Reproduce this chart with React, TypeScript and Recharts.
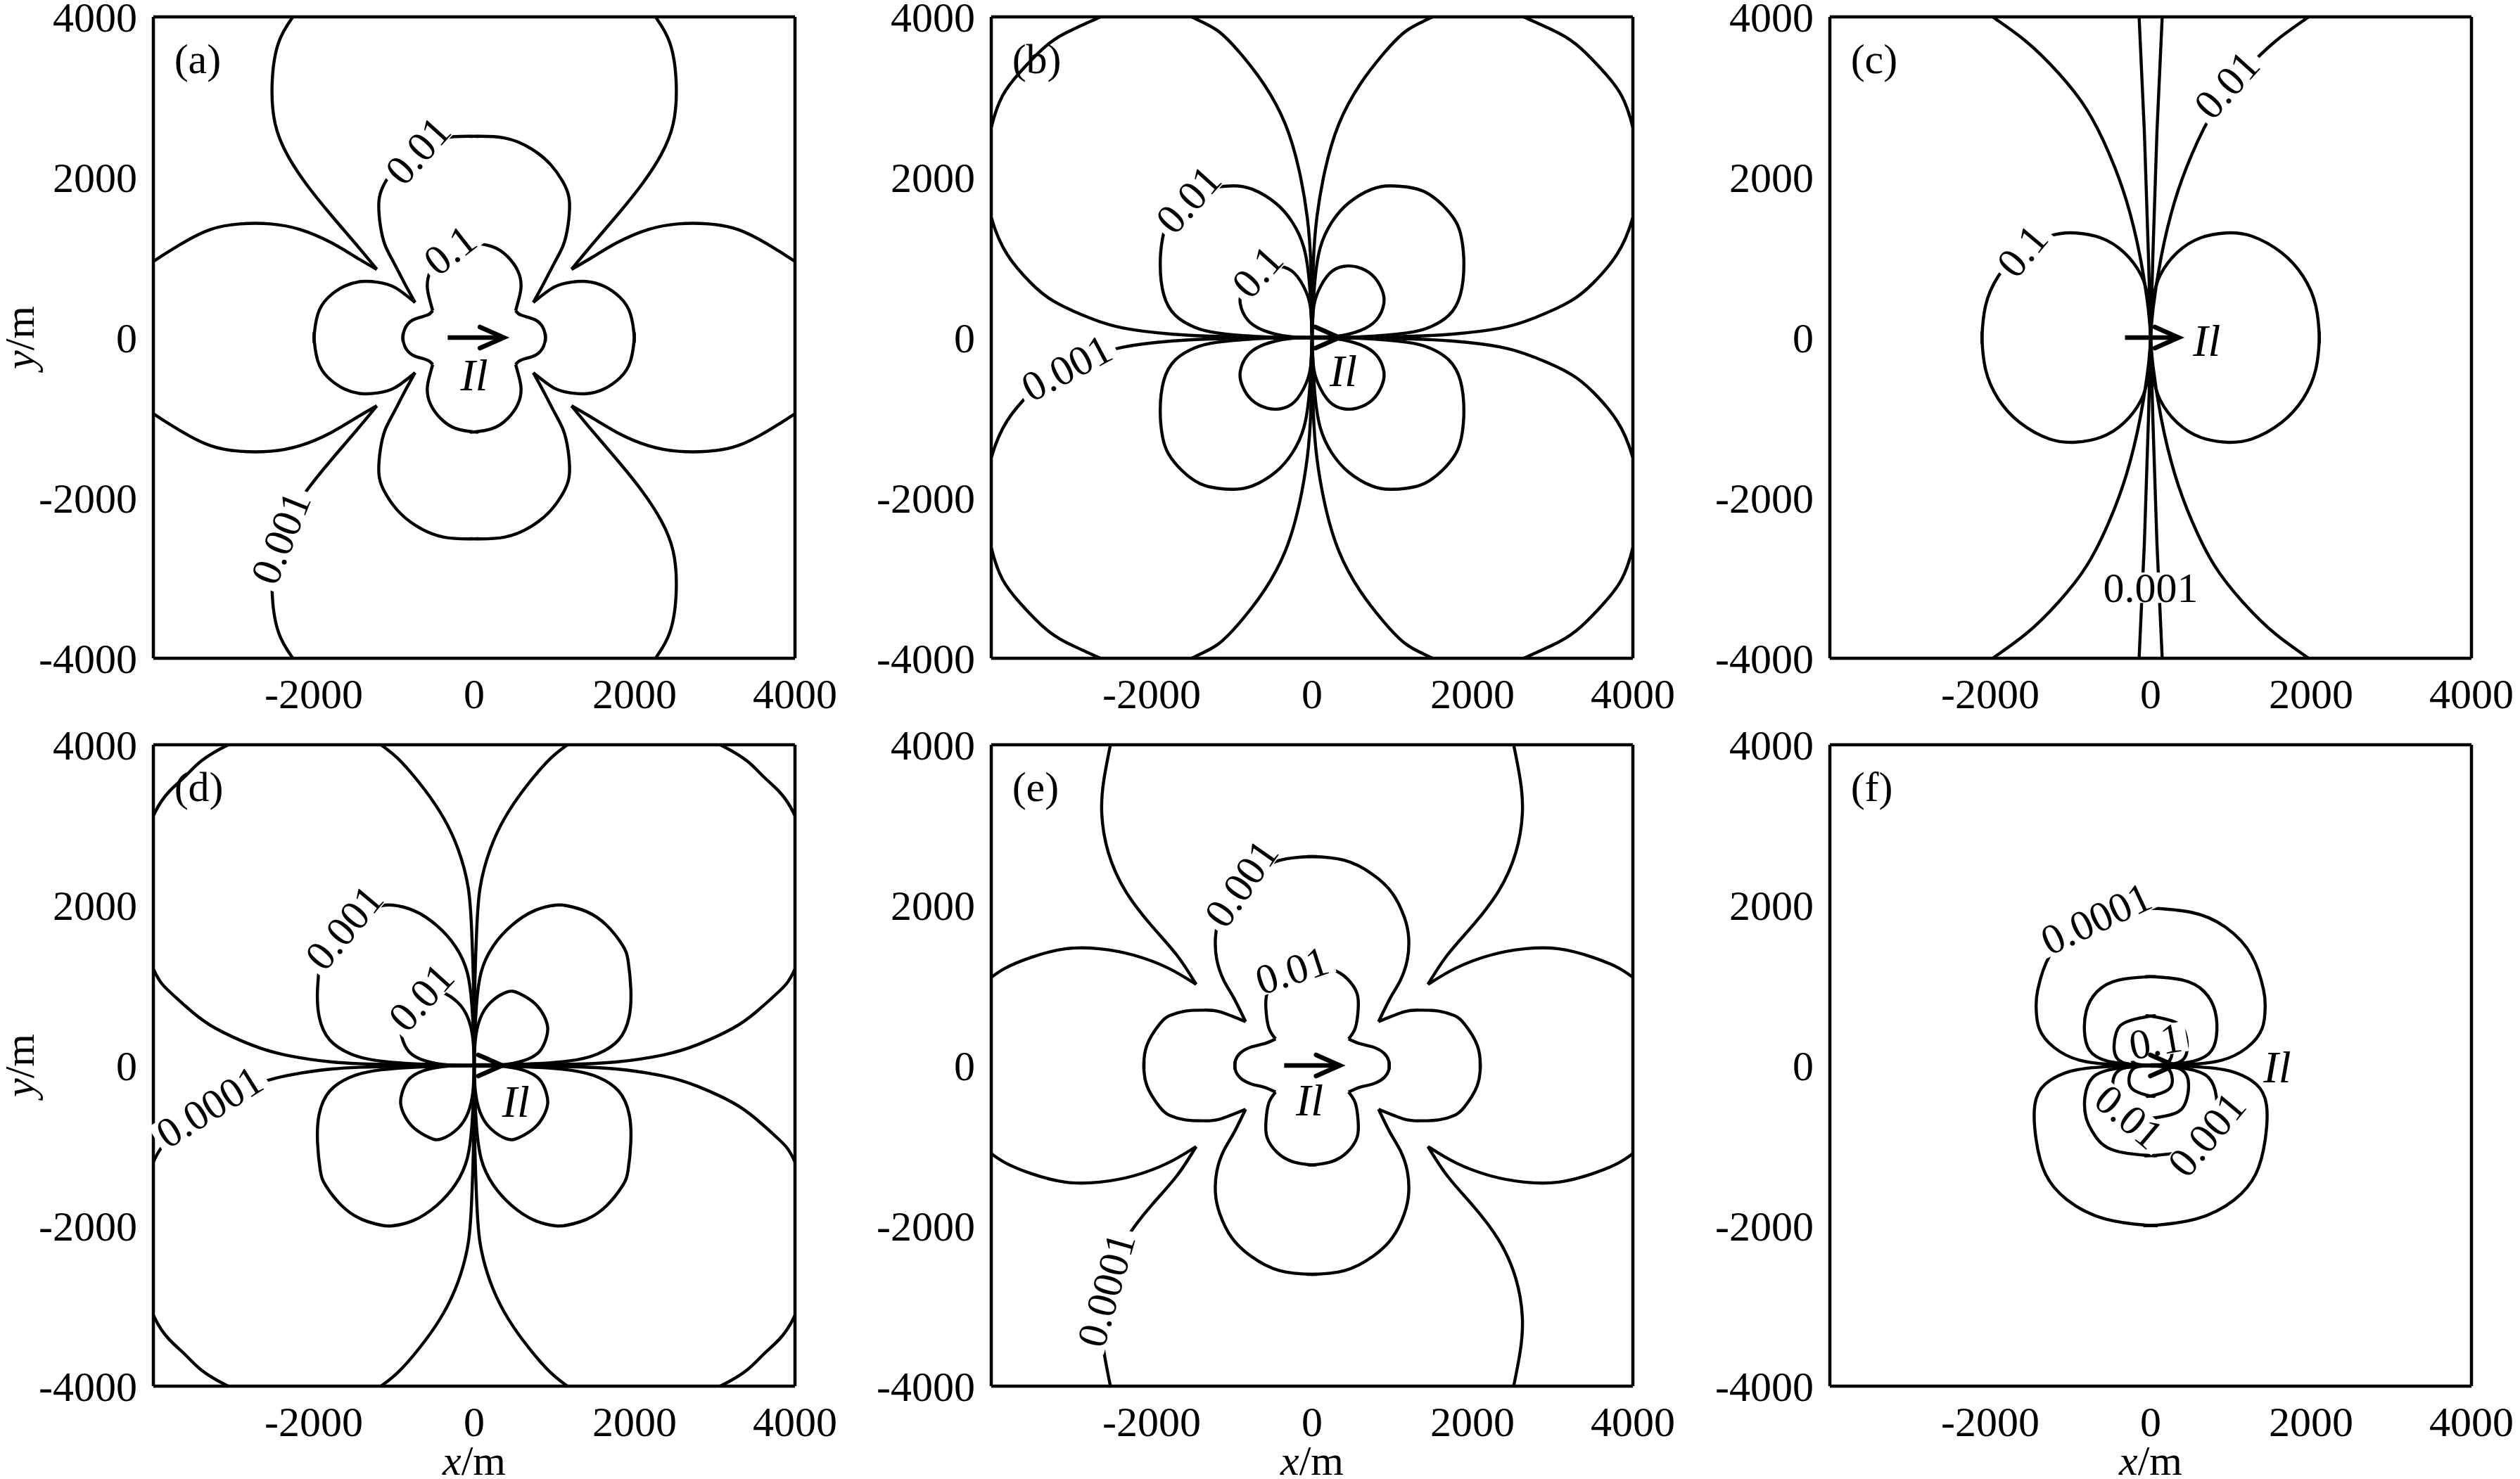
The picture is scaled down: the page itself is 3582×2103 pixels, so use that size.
import React from "react";
import { LineChart, Line, XAxis, YAxis, ReferenceDot } from "recharts";

type XY = [number, number];
type Lbl = { x: number; y: number; text: string; angle: number };

const FONT = "'Liberation Serif', 'Times New Roman', serif";

const xTickValues = [-2000, 0, 2000, 4000];
const yTickValues = [-4000, -2000, 0, 2000, 4000];
const tickMarks = [-3000, -2000, -1000, 0, 1000, 2000, 3000];

// ---- (a) upper-left quadrant pieces (mirrored to the other quadrants by reversed axes)
const aOuterTop: XY[] = [[-2200, 4120], [-2260, 4000], [-2440, 3675], [-2520, 3140], [-2480, 2660], [-2330, 2280], [-2090, 1910], [-1790, 1535], [-1470, 1160], [-1214, 851]];
const aOuterSide: XY[] = [[-1214, 851], [-1470, 1000], [-1790, 1188], [-2170, 1348], [-2540, 1418], [-2920, 1418], [-3290, 1348], [-3665, 1161], [-4000, 950], [-4100, 880]];
const a001Top: XY[] = [[40, 2510], [0, 2510], [-375, 2490], [-720, 2350], [-960, 2150], [-1124, 1910], [-1188, 1696], [-1170, 1400], [-1110, 1150], [-1010, 950], [-880, 700], [-737, 438]];
const a001Side: XY[] = [[-737, 438], [-990, 626], [-1200, 690], [-1400, 700], [-1620, 640], [-1820, 500], [-1950, 290], [-1996, 0], [-1990, -60]];
const a01Top: XY[] = [[40, 1177], [0, 1177], [-226, 1135], [-417, 1010], [-545, 830], [-585, 650], [-561, 497], [-517, 336]];
const a01Side: XY[] = [[-517, 336], [-590, 278], [-766, 219], [-868, 102], [-889, 0], [-886, -50]];
const aLabels: Lbl[] = [
  { x: -700, y: 2330, text: "0.01", angle: -48 },
  { x: -300, y: 1090, text: "0.1", angle: -38 },
  { x: -2410, y: -2500, text: "0.001", angle: -68 },
];

// ---- (b)
const b0001: XY[] = [[0, 0], [-15, 900], [-60, 1500], [-160, 2080], [-335, 2665], [-600, 3160], [-890, 3540], [-1180, 3830], [-1500, 4000], [-1900, 4180], [-2300, 4150], [-2640, 4000], [-3070, 3800], [-3360, 3600], [-3650, 3300], [-3860, 3015], [-4000, 2620], [-4080, 2060], [-4000, 1500], [-3800, 1035], [-3510, 685], [-3220, 452], [-2780, 248], [-2345, 117], [-1760, 44], [-1180, 15], [-500, 3], [0, 0]];
const b001: XY[] = [[0, 0], [-29, 626], [-102, 1122], [-248, 1442], [-452, 1675], [-743, 1850], [-976, 1893], [-1180, 1879], [-1400, 1820], [-1620, 1660], [-1790, 1450], [-1864, 1238], [-1893, 918], [-1850, 539], [-1704, 277], [-1471, 131], [-1180, 58], [-597, 9], [0, 0]];
const b01: XY[] = [[0, 0], [-15, 335], [-73, 568], [-218, 801], [-393, 888], [-560, 880], [-750, 780], [-870, 600], [-895, 422], [-801, 218], [-597, 87], [-306, 15], [0, 0]];
const bLabels: Lbl[] = [
  { x: -1540, y: 1720, text: "0.01", angle: -48 },
  { x: -680, y: 820, text: "0.1", angle: -48 },
  { x: -3060, y: -380, text: "0.001", angle: -28 },
];

// ---- (c)
const c01: XY[] = [[0, 0], [-27, 450], [-120, 780], [-330, 1060], [-615, 1241], [-936, 1305], [-1260, 1265], [-1632, 1059], [-1900, 765], [-2060, 391], [-2103, 0], [-2100, -60]];
const c001: XY[] = [[-2080, 4100], [-1970, 4000], [-1560, 3700], [-1150, 3300], [-800, 2850], [-520, 2300], [-300, 1700], [-130, 1000], [-30, 360], [0, 0]];
const c0001: XY[] = [[-150, 4100], [-144, 4000], [-80, 2600], [-27, 1000], [0, 0]];
const cLabels: Lbl[] = [
  { x: -1600, y: 1080, text: "0.1", angle: -50 },
  { x: 950, y: 3150, text: "0.01", angle: -48 },
  { x: 0, y: -3120, text: "0.001", angle: 0 },
];

// ---- (d)
const d00001: XY[] = [[0, 0], [-6, 901], [-29, 1628], [-73, 2209], [-203, 2704], [-378, 3081], [-610, 3430], [-901, 3779], [-1163, 4000], [-1600, 4250], [-2100, 4320], [-2600, 4200], [-3067, 4000], [-3400, 3800], [-3605, 3605], [-3800, 3420], [-3988, 3140], [-4150, 2600], [-4180, 1800], [-3988, 1177], [-3808, 930], [-3517, 669], [-3227, 465], [-2791, 262], [-2355, 131], [-1773, 44], [-1192, 15], [-500, 3], [0, 0]];
const d0001: XY[] = [[0, 0], [-6, 320], [-29, 756], [-87, 1163], [-233, 1483], [-465, 1744], [-756, 1933], [-1017, 2000], [-1163, 1991], [-1400, 1920], [-1650, 1750], [-1850, 1500], [-1919, 1308], [-1953, 959], [-1933, 610], [-1802, 320], [-1541, 145], [-1192, 58], [-610, 15], [0, 0]];
const d001: XY[] = [[0, 0], [-15, 320], [-73, 581], [-203, 785], [-407, 916], [-560, 900], [-750, 780], [-870, 620], [-916, 480], [-901, 349], [-814, 174], [-610, 58], [-320, 6], [0, 0]];
const dLabels: Lbl[] = [
  { x: -1620, y: 1720, text: "0.001", angle: -50 },
  { x: -660, y: 850, text: "0.01", angle: -48 },
  { x: -3300, y: -515, text: "0.0001", angle: -32 },
];

// ---- (e)
const e00001Top: XY[] = [[-2490, 4120], [-2514, 4000], [-2595, 3568], [-2622, 3140], [-2541, 2659], [-2327, 2177], [-2006, 1749], [-1685, 1375], [-1445, 1011]];
const e00001Side: XY[] = [[-1445, 1011], [-1792, 1214], [-2220, 1375], [-2648, 1455], [-3076, 1455], [-3504, 1348], [-3825, 1214], [-4000, 1100], [-4100, 1040]];
const e0001Top: XY[] = [[40, 2605], [0, 2605], [-400, 2560], [-760, 2380], [-1000, 2150], [-1150, 1850], [-1204, 1600], [-1188, 1321], [-1100, 1060], [-980, 850], [-829, 546]];
const e0001Side: XY[] = [[-829, 546], [-1150, 669], [-1350, 690], [-1578, 679], [-1780, 620], [-1899, 519], [-2060, 251], [-2097, 0], [-2094, -50]];
const e001Top: XY[] = [[40, 1240], [0, 1240], [-240, 1200], [-440, 1080], [-560, 900], [-575, 700], [-540, 470], [-455, 332]];
const e001Side: XY[] = [[-455, 332], [-600, 270], [-760, 230], [-900, 150], [-955, 60], [-963, 0], [-960, -50]];
const eLabels: Lbl[] = [
  { x: -880, y: 2270, text: "0.001", angle: -55 },
  { x: -250, y: 1185, text: "0.01", angle: -18 },
  { x: -2565, y: -2800, text: "0.0001", angle: -74 },
];

// ---- (f) left halves (mirrored left/right only)
const f00001Up: XY[] = [[0, 0], [-455, 11], [-883, 64], [-1204, 225], [-1391, 465], [-1428, 733], [-1407, 947], [-1257, 1375], [-936, 1723], [-508, 1910], [0, 1963], [40, 1963]];
const f00001Dn: XY[] = [[0, 0], [-562, -16], [-990, -70], [-1311, -230], [-1445, -498], [-1428, -926], [-1311, -1354], [-1043, -1675], [-562, -1915], [0, -1996], [40, -1996]];
const f0001Up: XY[] = [[0, 0], [-455, 37], [-722, 144], [-819, 358], [-803, 679], [-669, 920], [-401, 1065], [0, 1107], [40, 1107]];
const f0001Dn: XY[] = [[0, 0], [-455, -43], [-722, -150], [-819, -391], [-803, -658], [-696, -872], [-455, -1059], [0, -1124], [40, -1124]];
const f001Up: XY[] = [[0, 0], [-348, 37], [-455, 198], [-428, 412], [-294, 546], [0, 615], [40, 615]];
const f001Dn: XY[] = [[0, 0], [-348, -37], [-470, -200], [-440, -450], [-294, -600], [0, -660], [40, -660]];
const f01Up: XY[] = [[0, 0], [-200, 30], [-268, 150], [-220, 300], [0, 380], [40, 380]];
const f01Dn: XY[] = [[0, 0], [-200, -30], [-268, -150], [-220, -300], [0, -380], [40, -380]];
const fLabels: Lbl[] = [
  { x: -680, y: 1830, text: "0.0001", angle: -25 },
  { x: 60, y: 300, text: "0.1", angle: -10 },
  { x: -270, y: -640, text: "0.01", angle: 40 },
  { x: 700, y: -860, text: "0.001", angle: -50 },
];

// arrow (Il) shafts and text positions
const aShaft: XY[] = [[-330, 0], [370, 0]];
const bShaft: XY[] = [[0, 0], [340, 0]];
const cShaft: XY[] = [[-320, 0], [350, 0]];
const dShaft: XY[] = [[0, 0], [350, 0]];
const eShaft: XY[] = [[-348, 0], [348, 0]];
const fShaft: XY[] = [[0, 0], [294, 0]];
const ilPos: XY[] = [[0, -470], [390, -420], [700, -40], [520, -455], [-30, -430], [1578, -20]];
const letterPos: XY = [-3740, 3300];
const letters = ["(a)", "(b)", "(c)", "(d)", "(e)", "(f)"];

const BOTH = [["x", "y"], ["xr", "y"], ["x", "yr"], ["xr", "yr"]];
const LR = [["x", "y"], ["xr", "y"]];

const toPts = (a: XY[]) => a.map(([x, y]) => ({ x, y }));

const PLOT = 912;
const ML = 232;
const MT = 30;
const MR = 90;
const MB = 132;
const LW = 4.4;

const textW = (s: string) =>
  s.split("").reduce((w, ch) => w + (ch === "." ? 0.25 : 0.5), 0);

const XTitle = (props: any) => {
  const vb = props.viewBox;
  return (
    <text x={vb.x + vb.width / 2} y={vb.y + 126} textAnchor="middle" fontSize={60} fontFamily={FONT} fill="#000">
      <tspan fontStyle="italic">x</tspan>/m
    </text>
  );
};

const YTitle = (props: any) => {
  const vb = props.viewBox;
  const cy = vb.y + vb.height / 2;
  return (
    <text transform={`translate(${vb.x + 62},${cy}) rotate(-90)`} textAnchor="middle" fontSize={60} fontFamily={FONT} fill="#000">
      <tspan fontStyle="italic">y</tspan>/m
    </text>
  );
};

interface PanelProps {
  left: number;
  top: number;
  index: number;
  curves: XY[][];
  quads: string[][];
  labels: Lbl[];
  shaft: XY[];
  xTitle: boolean;
  yTitle: boolean;
}

const Panel: React.FC<PanelProps> = ({ left, top, index, curves, quads, labels, shaft, xTitle, yTitle }) => {
  const tickFont = { fontSize: 60, fill: "#000", fontFamily: FONT };
  const dom: [number, number] = [-4000, 4000];
  const tip = shaft[shaft.length - 1];
  const il = ilPos[index];
  const frameTick = { stroke: "#000", strokeWidth: 4 };
  const frameLine = { stroke: "#000", strokeWidth: 4.5 };
  return (
    <div style={{ position: "absolute", left: left - ML, top: top - MT }}>
      <LineChart width={ML + PLOT + MR} height={MT + PLOT + MB} margin={{ top: MT, right: MR, bottom: 0, left: 0 }}>
        <XAxis
          xAxisId="x"
          dataKey="x"
          type="number"
          domain={dom}
          allowDataOverflow
          ticks={xTickValues}
          interval={0}
          tickLine={false}
          axisLine={false}
          height={MB}
          tickSize={6}
          tickMargin={22}
          tick={tickFont}
          label={xTitle ? XTitle : undefined}
        />
        <XAxis xAxisId="xr" dataKey="x" type="number" domain={dom} allowDataOverflow reversed hide />
        <YAxis
          yAxisId="y"
          dataKey="y"
          type="number"
          domain={dom}
          allowDataOverflow
          ticks={yTickValues}
          interval={0}
          tickLine={false}
          axisLine={false}
          width={ML}
          tickSize={6}
          tickMargin={17}
          tick={tickFont}
          label={yTitle ? YTitle : undefined}
        />
        <YAxis yAxisId="yr" dataKey="y" type="number" domain={dom} allowDataOverflow reversed hide />

        {curves.flatMap((c, i) =>
          quads.map((q, j) => (
            <Line
              key={`c${i}-${j}`}
              data={toPts(c)}
              dataKey="y"
              xAxisId={q[0]}
              yAxisId={q[1]}
              type="natural"
              stroke="#000"
              strokeWidth={LW}
              dot={false}
              activeDot={false}
              isAnimationActive={false}
            />
          ))
        )}

        {labels.map((l, i) => (
          <ReferenceDot
            key={`l${i}`}
            xAxisId="x"
            yAxisId="y"
            x={l.x}
            y={l.y}
            r={1}
            shape={(p: any) => {
              const fs = 60;
              const w = textW(l.text) * fs + 14;
              return (
                <g transform={`translate(${p.cx},${p.cy}) rotate(${l.angle})`}>
                  <rect x={-w / 2} y={-fs * 0.36} width={w} height={fs * 0.72} fill="#fff" />
                  <text x={0} y={0} textAnchor="middle" dominantBaseline="central" fontSize={fs} fontFamily={FONT} fill="#000">
                    {l.text}
                  </text>
                </g>
              );
            }}
          />
        ))}

        <Line
          data={toPts(shaft)}
          dataKey="y"
          xAxisId="x"
          yAxisId="y"
          type="linear"
          stroke="#000"
          strokeWidth={6.5}
          dot={false}
          activeDot={false}
          isAnimationActive={false}
        />
        <ReferenceDot
          xAxisId="x"
          yAxisId="y"
          x={tip[0]}
          y={tip[1]}
          r={1}
          shape={(p: any) => (
            <path
              d={`M${p.cx - 34},${p.cy - 15} L${p.cx},${p.cy} L${p.cx - 34},${p.cy + 15}`}
              fill="none"
              stroke="#000"
              strokeWidth={6.5}
              strokeLinecap="round"
            />
          )}
        />
        <ReferenceDot
          xAxisId="x"
          yAxisId="y"
          x={il[0]}
          y={il[1]}
          r={1}
          shape={(p: any) => (
            <text x={p.cx} y={p.cy} textAnchor="middle" dominantBaseline="central" fontSize={64} fontStyle="italic" fontFamily={FONT} fill="#000">
              Il
            </text>
          )}
        />
        <ReferenceDot
          xAxisId="x"
          yAxisId="y"
          x={letterPos[0]}
          y={letterPos[1]}
          r={1}
          shape={(p: any) => (
            <text x={p.cx} y={p.cy} textAnchor="start" fontSize={60} fontFamily={FONT} fill="#000">
              {letters[index]}
            </text>
          )}
        />

        <XAxis xAxisId="tb" type="number" domain={dom} allowDataOverflow orientation="bottom" mirror ticks={tickMarks} interval={0} tick={false} tickSize={14} tickLine={frameTick} axisLine={frameLine} />
        <XAxis xAxisId="tt" type="number" domain={dom} allowDataOverflow orientation="top" mirror ticks={tickMarks} interval={0} tick={false} tickSize={14} tickLine={frameTick} axisLine={frameLine} />
        <YAxis yAxisId="tl" type="number" domain={dom} allowDataOverflow orientation="left" mirror ticks={tickMarks} interval={0} tick={false} tickSize={14} tickLine={frameTick} axisLine={frameLine} />
        <YAxis yAxisId="tr" type="number" domain={dom} allowDataOverflow orientation="right" mirror ticks={tickMarks} interval={0} tick={false} tickSize={14} tickLine={frameTick} axisLine={frameLine} />
      </LineChart>
    </div>
  );
};

const COLS = [218, 1409, 2601];
const ROWS = [24, 1059];

export default function App() {
  const panels = [
    { curves: [aOuterTop, aOuterSide, a001Top, a001Side, a01Top, a01Side], quads: BOTH, labels: aLabels, shaft: aShaft },
    { curves: [b0001, b001, b01], quads: BOTH, labels: bLabels, shaft: bShaft },
    { curves: [c01, c001, c0001], quads: BOTH, labels: cLabels, shaft: cShaft },
    { curves: [d00001, d0001, d001], quads: BOTH, labels: dLabels, shaft: dShaft },
    { curves: [e00001Top, e00001Side, e0001Top, e0001Side, e001Top, e001Side], quads: BOTH, labels: eLabels, shaft: eShaft },
    { curves: [f00001Up, f00001Dn, f0001Up, f0001Dn, f001Up, f001Dn, f01Up, f01Dn], quads: LR, labels: fLabels, shaft: fShaft },
  ];
  return (
    <div style={{ position: "absolute", left: 0, top: 0, width: 3582, height: 2103, background: "#fff", overflow: "hidden" }}>
      {panels.map((p, i) => (
        <Panel
          key={i}
          index={i}
          left={COLS[i % 3]}
          top={ROWS[Math.floor(i / 3)]}
          curves={p.curves}
          quads={p.quads}
          labels={p.labels}
          shaft={p.shaft}
          xTitle={i >= 3}
          yTitle={i % 3 === 0}
        />
      ))}
    </div>
  );
}
